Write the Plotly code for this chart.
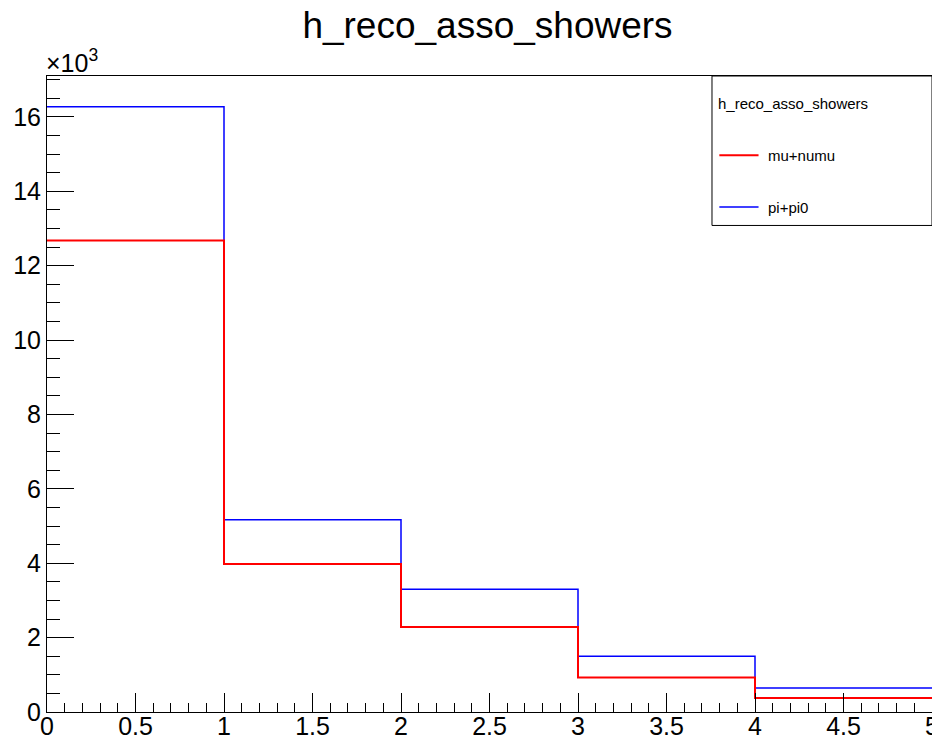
import plotly.graph_objects as go

# ---- data ----
bin_edges = [0, 1, 2, 3, 4, 5]
mu_numu = [12680, 3980, 2285, 925, 376]
pi_pi0 = [16270, 5170, 3300, 1500, 645]
series_names = ["mu+numu", "pi+pi0"]
y_tickvals = [0, 2000, 4000, 6000, 8000, 10000, 12000, 14000, 16000]
y_ticktext = ["0", "2", "4", "6", "8", "10", "12", "14", "16"]
x_tickvals = [0, 0.5, 1, 1.5, 2, 2.5, 3, 3.5, 4, 4.5, 5]
x_ticktext = ["0", "0.5", "1", "1.5", "2", "2.5", "3", "3.5", "4", "4.5", "5"]

FONT = "Liberation Sans, Arial, Helvetica, sans-serif"

fig = go.Figure()
fig.add_trace(go.Scatter(
    x=bin_edges, y=pi_pi0 + [pi_pi0[-1]], mode="lines", line_shape="hv",
    line=dict(color="#0000ff", width=1.5), name=series_names[1], showlegend=False))
fig.add_trace(go.Scatter(
    x=bin_edges, y=mu_numu + [mu_numu[-1]], mode="lines", line_shape="hv",
    line=dict(color="#ff0000", width=2), name=series_names[0], showlegend=False))

# legend box (ROOT TLegend style)
lx0, lx1, ly0, ly1 = 0.7514, 1.0, 0.765, 1.0
shapes = [
    dict(type="rect", xref="paper", yref="paper", x0=lx0, x1=lx1, y0=ly0, y1=ly1,
         line=dict(color="black", width=1), fillcolor="white", layer="above"),
    dict(type="line", xref="paper", yref="paper", x0=0.7597, x1=0.8040, y0=0.8752, y1=0.8752,
         line=dict(color="#ff0000", width=2), layer="above"),
    dict(type="line", xref="paper", yref="paper", x0=0.7597, x1=0.8040, y0=0.7940, y1=0.7940,
         line=dict(color="#0000ff", width=1.5), layer="above"),
]
annotations = [
    dict(text="h_reco_asso_showers", xref="paper", yref="paper", x=0.7563, y=0.9566,
         xanchor="left", yanchor="middle", showarrow=False, font=dict(size=15, color="black", family=FONT)),
    dict(text=series_names[0], xref="paper", yref="paper", x=0.8128, y=0.8752,
         xanchor="left", yanchor="middle", showarrow=False, font=dict(size=15, color="black", family=FONT)),
    dict(text=series_names[1], xref="paper", yref="paper", x=0.8128, y=0.7940,
         xanchor="left", yanchor="middle", showarrow=False, font=dict(size=15, color="black", family=FONT)),
    dict(text="×10<sup>3</sup>", xref="paper", yref="paper", x=0.0, y=1.0,
         xanchor="left", yanchor="bottom", yshift=-3, xshift=-3, showarrow=False,
         font=dict(size=25, color="black", family=FONT)),
]

# page body has an 8px margin, so the figure is sized/margined to compensate
fig.update_layout(
    width=932, height=732,
    margin=dict(l=39, r=8, t=68, b=28, autoexpand=False),
    paper_bgcolor="white", plot_bgcolor="white",
    font=dict(family=FONT, color="black"),
    title=dict(text="h_reco_asso_showers", x=0.5145, xanchor="center", y=1 - 17 / 732, yanchor="middle",
               font=dict(size=37, color="black", family=FONT)),
    shapes=shapes, annotations=annotations, showlegend=False,
)
fig.update_xaxes(
    range=[0, 5], showgrid=False, zeroline=False, showline=True, mirror=True, automargin=False,
    linecolor="black", linewidth=1,
    tickmode="array", tickvals=x_tickvals, ticktext=x_ticktext,
    ticks="inside", ticklen=19, tickcolor="black", tickwidth=1,
    minor=dict(ticks="inside", dtick=0.1, ticklen=9, tickcolor="black", tickwidth=1, showgrid=False),
    tickfont=dict(size=25, color="black", family=FONT), ticklabelstandoff=-8,
)
fig.update_yaxes(
    range=[0, 17100], showgrid=False, zeroline=False, showline=True, mirror=True, automargin=False,
    linecolor="black", linewidth=1,
    tickmode="array", tickvals=y_tickvals, ticktext=y_ticktext,
    ticks="inside", ticklen=27, tickcolor="black", tickwidth=1,
    minor=dict(ticks="inside", dtick=500, ticklen=13, tickcolor="black", tickwidth=1, showgrid=False),
    tickfont=dict(size=25, color="black", family=FONT),
)

fig.write_html("out.html")
